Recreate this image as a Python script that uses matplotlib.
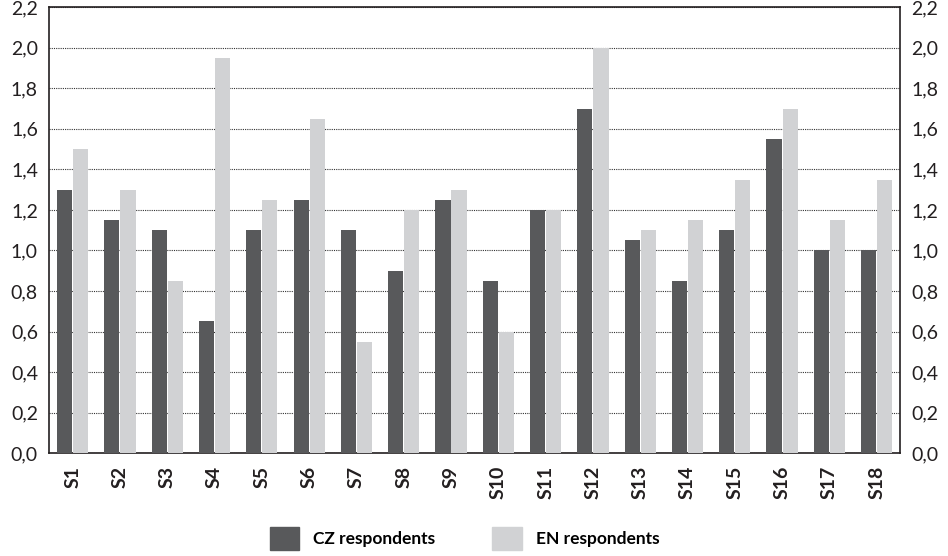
import numpy as np
import matplotlib.pyplot as plt
from matplotlib.patches import Patch

categories = ["S%d" % i for i in range(1, 19)]
cz_values = [1.3, 1.15, 1.1, 0.65, 1.1, 1.25, 1.1, 0.9, 1.25, 0.85, 1.2, 1.7, 1.05, 0.85, 1.1, 1.55, 1.0, 1.0]
en_values = [1.5, 1.3, 0.85, 1.95, 1.25, 1.65, 0.55, 1.2, 1.3, 0.6, 1.2, 2.0, 1.1, 1.15, 1.35, 1.7, 1.15, 1.35]
yticks = [0.0, 0.2, 0.4, 0.6, 0.8, 1.0, 1.2, 1.4, 1.6, 1.8, 2.0, 2.2]

plt.rcParams['font.family'] = ['Lato', 'DejaVu Sans']

fig = plt.figure(figsize=(9.48, 5.56), dpi=100)
ax = fig.add_axes([0.0517, 0.185, 0.898, 0.802])

x = np.arange(len(categories))
w = 0.32
ax.bar(x - 0.17, cz_values, w, color="#58595b", zorder=3)
ax.bar(x + 0.17, en_values, w, color="#d1d2d4", zorder=3)

ax.set_xlim(-0.5, len(categories) - 0.5)
ax.set_ylim(0, 2.2)
ax.set_yticks(yticks)
labels = [("%.1f" % v).replace(".", ",") for v in yticks]
ax.set_yticklabels(labels, fontsize=14, color="#231f20")
ax.tick_params(axis='y', length=0, pad=8, labelright=True, right=False)
ax.set_xticks(x)
ax.set_xticklabels(categories, rotation=90, fontsize=14, fontweight='bold', color="#231f20")
ax.tick_params(axis='x', length=0, pad=9)

ax.yaxis.grid(True, linestyle=(0, (1, 1)), color="#333333", linewidth=0.8, zorder=0)
for s in ax.spines.values():
    s.set_linewidth(1.2)
    s.set_color("#231f20")

handles = [Patch(color="#58595b", label="CZ respondents"),
           Patch(color="#d1d2d4", label="EN respondents")]
fig.legend(handles=handles, loc='lower center', bbox_to_anchor=(0.49, -0.018), ncol=2,
           frameon=False, prop={'weight': 'bold', 'size': 12.5},
           handlelength=1.7, handleheight=1.7, columnspacing=3.3, handletextpad=0.8)

fig.savefig("out.png", dpi=100)
